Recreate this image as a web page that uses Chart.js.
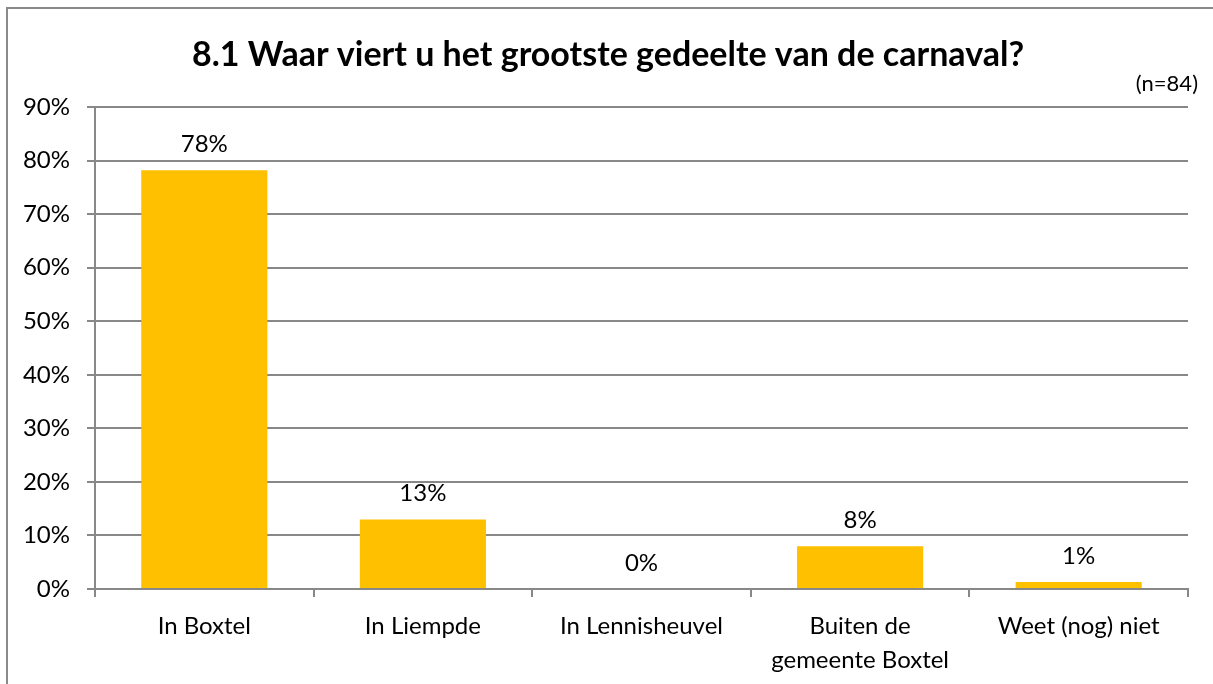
<!DOCTYPE html>
<html>
<head>
<meta charset="utf-8">
<script src="https://cdn.jsdelivr.net/npm/chart.js@4.4.0/dist/chart.umd.min.js"></script>
<style>
  body { margin: 0; overflow: hidden; background: #fff; }
  .wrap { position: relative; width: 1213px; height: 684px; }
  .frame { position: absolute; left: 6px; top: 7px; width: 1300px; height: 800px;
           border-left: 2px solid #8a8a8a; border-top: 2px solid #8a8a8a; }
  canvas { position: absolute; left: 0; top: 0; }
</style>
</head>
<body>
<div class="wrap">
  <div class="frame"></div>
  <canvas id="myChart" width="1213" height="684"></canvas>
</div>
<script>
// chart data
const categories = [
  "In Boxtel",
  "In Liempde",
  "In Lennisheuvel",
  ["Buiten de", "gemeente Boxtel"],
  "Weet (nog) niet",
];
const percentages = [78.2, 13.0, 0, 8.0, 1.3];
const yTicks = [0, 10, 20, 30, 40, 50, 60, 70, 80, 90];

const chartTitle = "8.1 Waar viert u het grootste gedeelte van de carnaval?";
const sampleNote = "(n=84)";

const fontFamily = "Lato, 'Open Sans', sans-serif";
const gridColor = "#888888";

// title, n= note and the value labels on top of the bars
const textPlugin = {
  id: "textPlugin",
  afterDatasetsDraw(chart) {
    const ctx = chart.ctx;
    ctx.save();
    ctx.fillStyle = "#000";
    ctx.textBaseline = "middle";

    ctx.font = "bold 34px " + fontFamily;
    ctx.textAlign = "center";
    ctx.fillText(chartTitle, 608, 55);

    ctx.font = "22px " + fontFamily;
    ctx.textAlign = "right";
    ctx.fillText(sampleNote, 1198, 84);

    ctx.font = "24px " + fontFamily;
    ctx.textAlign = "center";
    const meta = chart.getDatasetMeta(0);
    meta.data.forEach((bar, i) => {
      ctx.fillText(Math.round(percentages[i]) + "%", bar.x, bar.y - 26);
    });
    ctx.restore();
  }
};

const config = {
  type: "bar",
  data: {
    labels: categories,
    datasets: [
      {
        data: percentages,
        backgroundColor: "#FFC000",
        borderWidth: 0,
        barPercentage: 0.577,
        categoryPercentage: 1,
      },
    ],
  },
  options: {
    responsive: false,
    animation: false,
    layout: { padding: { top: 107, right: 25, left: 0, bottom: 0 } },
    plugins: {
      legend: { display: false },
      tooltip: { enabled: false },
    },
    scales: {
      x: {
        offset: true,
        grid: {
          offset: true,
          drawOnChartArea: false,
          drawTicks: true,
          tickLength: 8,
          color: gridColor,
          lineWidth: 2,
        },
        border: { color: gridColor, width: 2 },
        ticks: {
          color: "#000",
          padding: 12,
          maxRotation: 0,
          autoSkip: false,
          font: { family: fontFamily, size: 24, lineHeight: 1.42 },
        },
        afterFit(scale) { scale.height = 95; },
      },
      y: {
        min: 0,
        max: 90,
        afterBuildTicks(scale) {
          scale.ticks = yTicks.map(v => ({ value: v }));
        },
        grid: {
          color: gridColor,
          lineWidth: 2,
          tickLength: 8,
        },
        border: { color: gridColor, width: 2 },
        ticks: {
          color: "#000",
          padding: 17,
          callback: (v) => v + "%",
          font: { family: fontFamily, size: 24 },
        },
        afterFit(scale) { scale.width = 95; },
      },
    },
  },
  plugins: [textPlugin],
};

const ctx = document.getElementById("myChart");
new Chart(ctx, config);
</script>
</body>
</html>
